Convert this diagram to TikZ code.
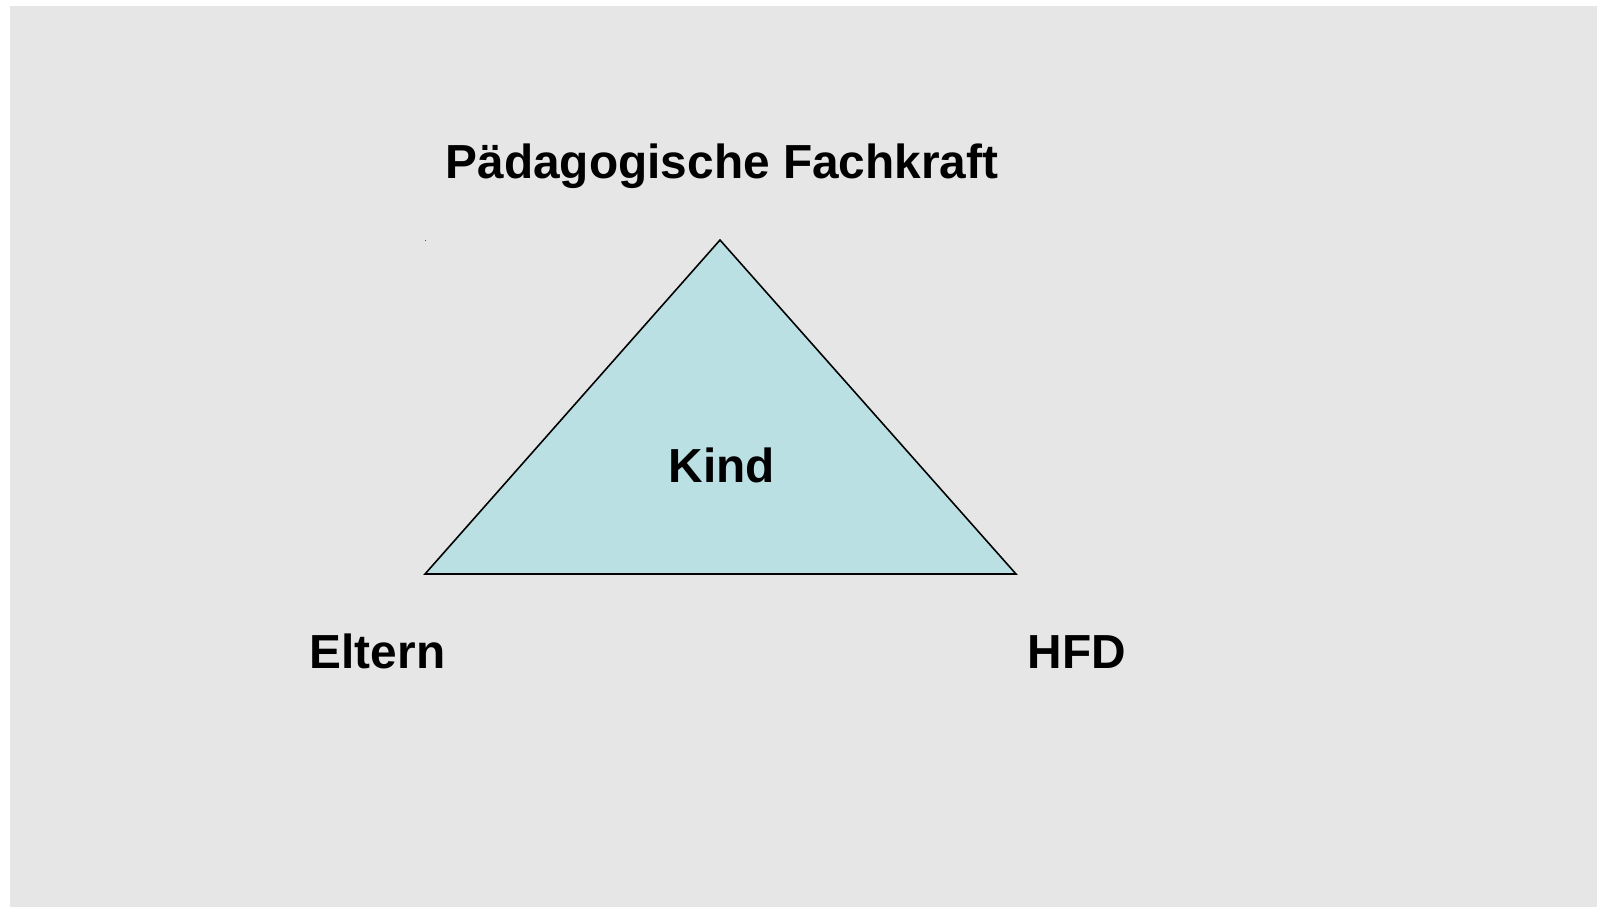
\documentclass[tikz,border=0pt]{standalone}
\usepackage{fontspec}
\setmainfont{Liberation Sans}
\definecolor{slidegray}{RGB}{230,230,230}
\definecolor{kindfill}{RGB}{186,224,227}
\begin{document}
\begin{tikzpicture}[x=0.1mm, y=-0.1mm, line join=miter,
    label/.style={font=\fontsize{13.6}{16}\selectfont\bfseries, anchor=base, inner sep=0pt}]
  \useasboundingbox (0,0) rectangle (1597,907);
  \fill[slidegray] (10,6) rectangle (1597,907);
  % the triangle
  \coordinate (apex) at (720,240);
  \coordinate (eltern) at (425,574);
  \coordinate (hfd) at (1016,574);
  \draw[fill=kindfill, line width=0.45pt] (apex)--(eltern)--(hfd)--cycle;
  \fill[black!70] (424.5,239.5) rectangle (426,241);
  \path
  (722,178) node[label] (fachkraft) {Pädagogische Fachkraft}
  (722,482) node[label] (kind) {Kind}
  (377.5,668) node[label] (elterntext) {Eltern}
  (1077,668) node[label] (hfdtext) {HFD}
  ;
\end{tikzpicture}
\end{document}
